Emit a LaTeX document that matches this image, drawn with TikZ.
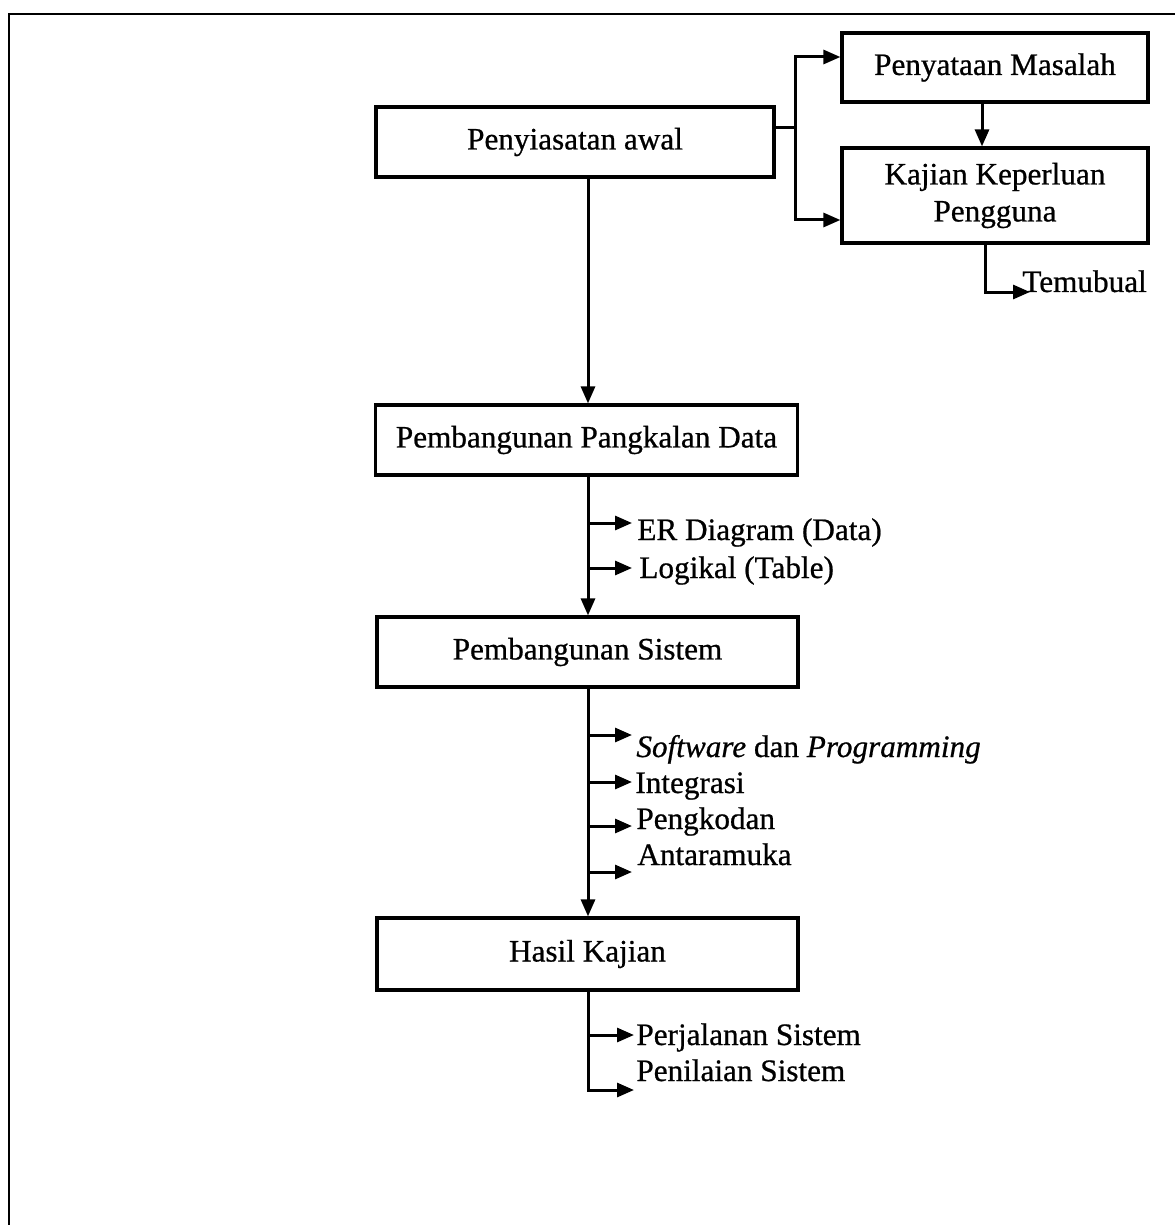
\documentclass[tikz,border=0pt]{standalone}
\usepackage{fontspec}
\setmainfont{Liberation Serif}[FakeBold=0.7]
\usetikzlibrary{arrows.meta}
\newcommand{\dfont}{\fontsize{15.6}{18.5}\selectfont}
\begin{document}
\begin{tikzpicture}[x=0.5pt,y=-0.5pt,
  box/.style={draw, line width=1.6pt, inner sep=0pt, align=center, font=\dfont},
  ln/.style={line width=1.5pt},
  arr/.style={ln, -{Triangle[length=8.5pt,width=7pt]}},
  lbl/.style={anchor=base west, inner sep=0pt, font=\dfont}]
\useasboundingbox (0,0) rectangle (1175,1225);
% frame
\draw[line width=1.2pt] (9,1225) -- (9,14) -- (1175,14);
% boxes
\node[box, minimum width=199pt, minimum height=35pt] (b1) at (575,142) {Penyiasatan awal};
\node[box, minimum width=153pt, minimum height=34.5pt] (b2) at (995,67.5) {Penyataan Masalah};
\node[box, minimum width=153pt, minimum height=47.5pt] (b3) at (995,195.5) {Kajian Keperluan\\Pengguna};
\node[box, minimum width=211pt, minimum height=35pt] (b4) at (586.5,440) {Pembangunan Pangkalan Data};
\node[box, minimum width=210.5pt, minimum height=35pt] (b5) at (587.5,652) {Pembangunan Sistem};
\node[box, minimum width=210.5pt, minimum height=36pt] (b6) at (587.5,954) {Hasil Kajian};
% labels
\node[lbl] (tm) at (1022,292) {Temubual};
\node[lbl] (er) at (637,540) {ER Diagram (Data)};
\node[lbl] (lg) at (639,578) {Logikal (Table)};
\node[lbl] (sw) at (636,757) {\textit{Software} dan \textit{Programming}};
\node[lbl] (ig) at (635,793) {Integrasi};
\node[lbl] (pk) at (636,829) {Pengkodan};
\node[lbl] (am) at (637,865) {Antaramuka};
\node[lbl] (pj) at (636,1045) {Perjalanan Sistem};
\node[lbl] (pn) at (636,1081) {Penilaian Sistem};
% helper coordinates
\coordinate (sp) at (588,0);
\coordinate (j0) at (795,128);
\coordinate (t2) at (842,57);
\coordinate (t3) at (842,220);
\coordinate (cx) at (982,0);
\coordinate (tx) at (985,0);
\coordinate (ttm) at (1030,292);
\coordinate (aer) at (632,523);
\coordinate (alg) at (632,568);
\coordinate (asw) at (632,735);
\coordinate (aig) at (632,782);
\coordinate (apk) at (632,826);
\coordinate (aam) at (632,872);
\coordinate (apj) at (634,1035);
\coordinate (apn) at (634,1090);
% top connectors
\draw[ln] (j0 -| b1.east) -- (j0);
\draw[arr] (j0) |- (t2 -| b2.west);
\draw[arr] (j0) |- (t3 -| b3.west);
\draw[arr] (b2.south -| cx) -- (b3.north -| cx);
\draw[arr] (b3.south -| tx) |- (ttm);
% spine
\draw[arr] (b1.south -| sp) -- (b4.north -| sp);
\draw[arr] (b4.south -| sp) -- (b5.north -| sp);
\draw[arr] (b5.south -| sp) -- (b6.north -| sp);
\draw[arr] (b6.south -| sp) |- (apn);
% branches
\foreach \c in {aer,alg,asw,aig,apk,aam,apj}{
  \draw[arr] (sp |- \c) -- (\c);
}
\end{tikzpicture}
\end{document}
